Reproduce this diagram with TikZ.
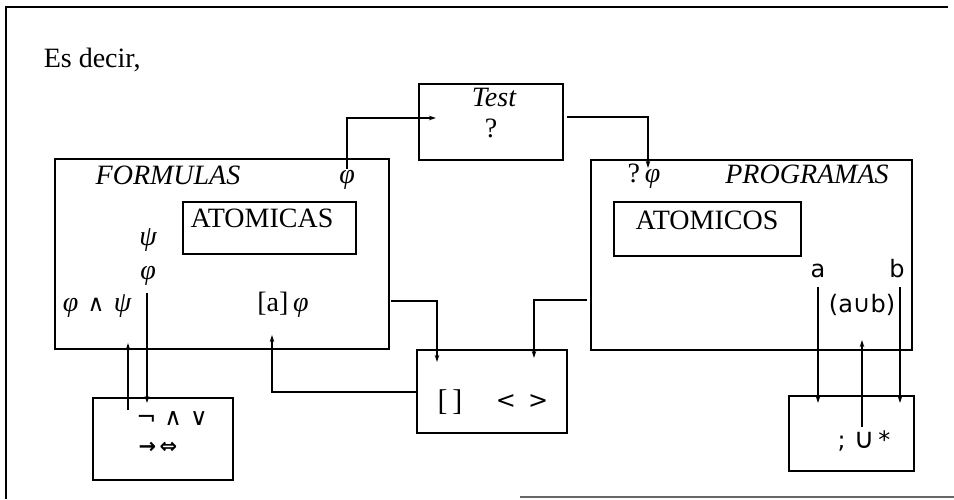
\documentclass[tikz,border=0pt]{standalone}
\usepackage{fontspec}
\setmainfont{Liberation Serif}
\newfontfamily\symfont{DejaVu Sans}
\usetikzlibrary{arrows.meta}
\begin{document}
\begin{tikzpicture}[x=1pt,y=-1pt,
  line width=1.5pt,
  box/.style={draw, line width=1.5pt, inner sep=0pt, rectangle},
  lbl/.style={inner sep=0pt, anchor=base, font=\fontsize{28}{30}\selectfont},
  slbl/.style={inner sep=0pt, anchor=base, font=\symfont\fontsize{24}{26}\selectfont},
  conn/.style={line width=1.5pt, -{Stealth[length=7pt,width=4.5pt]}},
  wire/.style={line width=1.5pt}]
\useasboundingbox (0,0) rectangle (954,499);
% outer frame
\draw[line width=1.6pt] (948,7) -- (6,7) -- (6,499);
\draw[line width=1.2pt, black!60] (520,497) -- (954,497);
% boxes
\node[box, minimum width=334pt, minimum height=190pt] (form) at (222,254) {};
\node[box, minimum width=173pt, minimum height=52pt] (atomicas) at (269.5,228) {};
\node[box, minimum width=144pt, minimum height=76pt] (test) at (491,122) {};
\node[box, minimum width=321pt, minimum height=190pt] (prog) at (751.5,255) {};
\node[box, minimum width=187pt, minimum height=54pt] (atomicos) at (707.5,229) {};
\node[box, minimum width=140pt, minimum height=82pt] (lconn) at (163,439) {};
\node[box, minimum width=150pt, minimum height=83pt] (modal) at (492,391.5) {};
\node[box, minimum width=125pt, minimum height=75pt] (progop) at (851.5,433.5) {};
% texts
\node[lbl, anchor=base west] (esdecir) at (43,67) {Es decir,};
\node[lbl] (formt) at (168,184) {\itshape FORMULAS};
\node[lbl] (phiT) at (347,183) {\itshape φ};
\node[lbl] (atomicast) at (262,227) {ATOMICAS};
\node[lbl] (psi1) at (148,245) {\itshape ψ};
\node[lbl] (phi1) at (148,279) {\itshape φ};
\node[lbl] (andf) at (97,311) {\itshape φ\,\,{\symfont\fontsize{23}{26}\selectfont ∧}\,\,ψ};
\node[lbl] (boxphi) at (283,311) {[a]\,\itshape φ};
\node[lbl] (testt) at (494,106) {\itshape Test};
\node[lbl] (testq) at (491,137) {?};
\node[lbl] (qphi) at (644,182) {?\,\itshape φ};
\node[lbl] (progt) at (807,183) {\itshape PROGRAMAS};
\node[lbl] (atomicost) at (707,229) {ATOMICOS};
\node[slbl] (at) at (818,277) {a};
\node[slbl] (bt) at (897,277) {b};
\node[slbl] (aub) at (862,312) {(a∪b)};
\node[slbl] (ops1) at (172,425) {¬\,\,∧\,\,∨};
\node[inner sep=0pt, anchor=base, font=\symfont\bfseries\fontsize{21}{24}\selectfont] (ops2) at (158,453) {→\,⇔};
\node[inner sep=0pt, anchor=base, font=\fontsize{30}{32}\selectfont] (brk) at (450,410) {[\,]};
\node[slbl] (ang) at (522,408) {<\,\,\,>};
\node[inner sep=0pt, anchor=base, font=\symfont\fontsize{24}{26}\selectfont] (popt) at (864,448) {;\,\,{\fontsize{28}{30}\selectfont ∪}\,*};
% connector end points
\coordinate (tA) at (436,118);
\coordinate (tB) at (567,117);
\coordinate (qA) at (648,168);
\coordinate (fR) at (391,301);
\coordinate (mA) at (437,362);
\coordinate (pL) at (587,300);
\coordinate (mB) at (534,358);
\coordinate (mL) at (417,392);
\coordinate (bA) at (272,335);
\coordinate (c1s) at (147,293);
\coordinate (c1e) at (147,403);
\coordinate (c2s) at (128,410);
\coordinate (c2e) at (128,343);
\coordinate (as) at (818,287);
\coordinate (ae) at (818,403);
\coordinate (bs) at (900,287);
\coordinate (be) at (900,403);
\coordinate (us) at (862,427);
\coordinate (ue) at (862,340);
% connectors
\draw[conn] (phiT.north) |- (tA);
\draw[conn] (tB) -| (qA);
\draw[conn] (fR) -| (mA);
\draw[conn] (pL) -| (mB);
\draw[conn] (mL) -| (bA);
\draw[conn] (c1s) -- (c1e);
\draw[conn] (c2s) -- (c2e);
\draw[conn] (as) -- (ae);
\draw[conn] (bs) -- (be);
\draw[conn] (us) -- (ue);
\end{tikzpicture}
\end{document}
